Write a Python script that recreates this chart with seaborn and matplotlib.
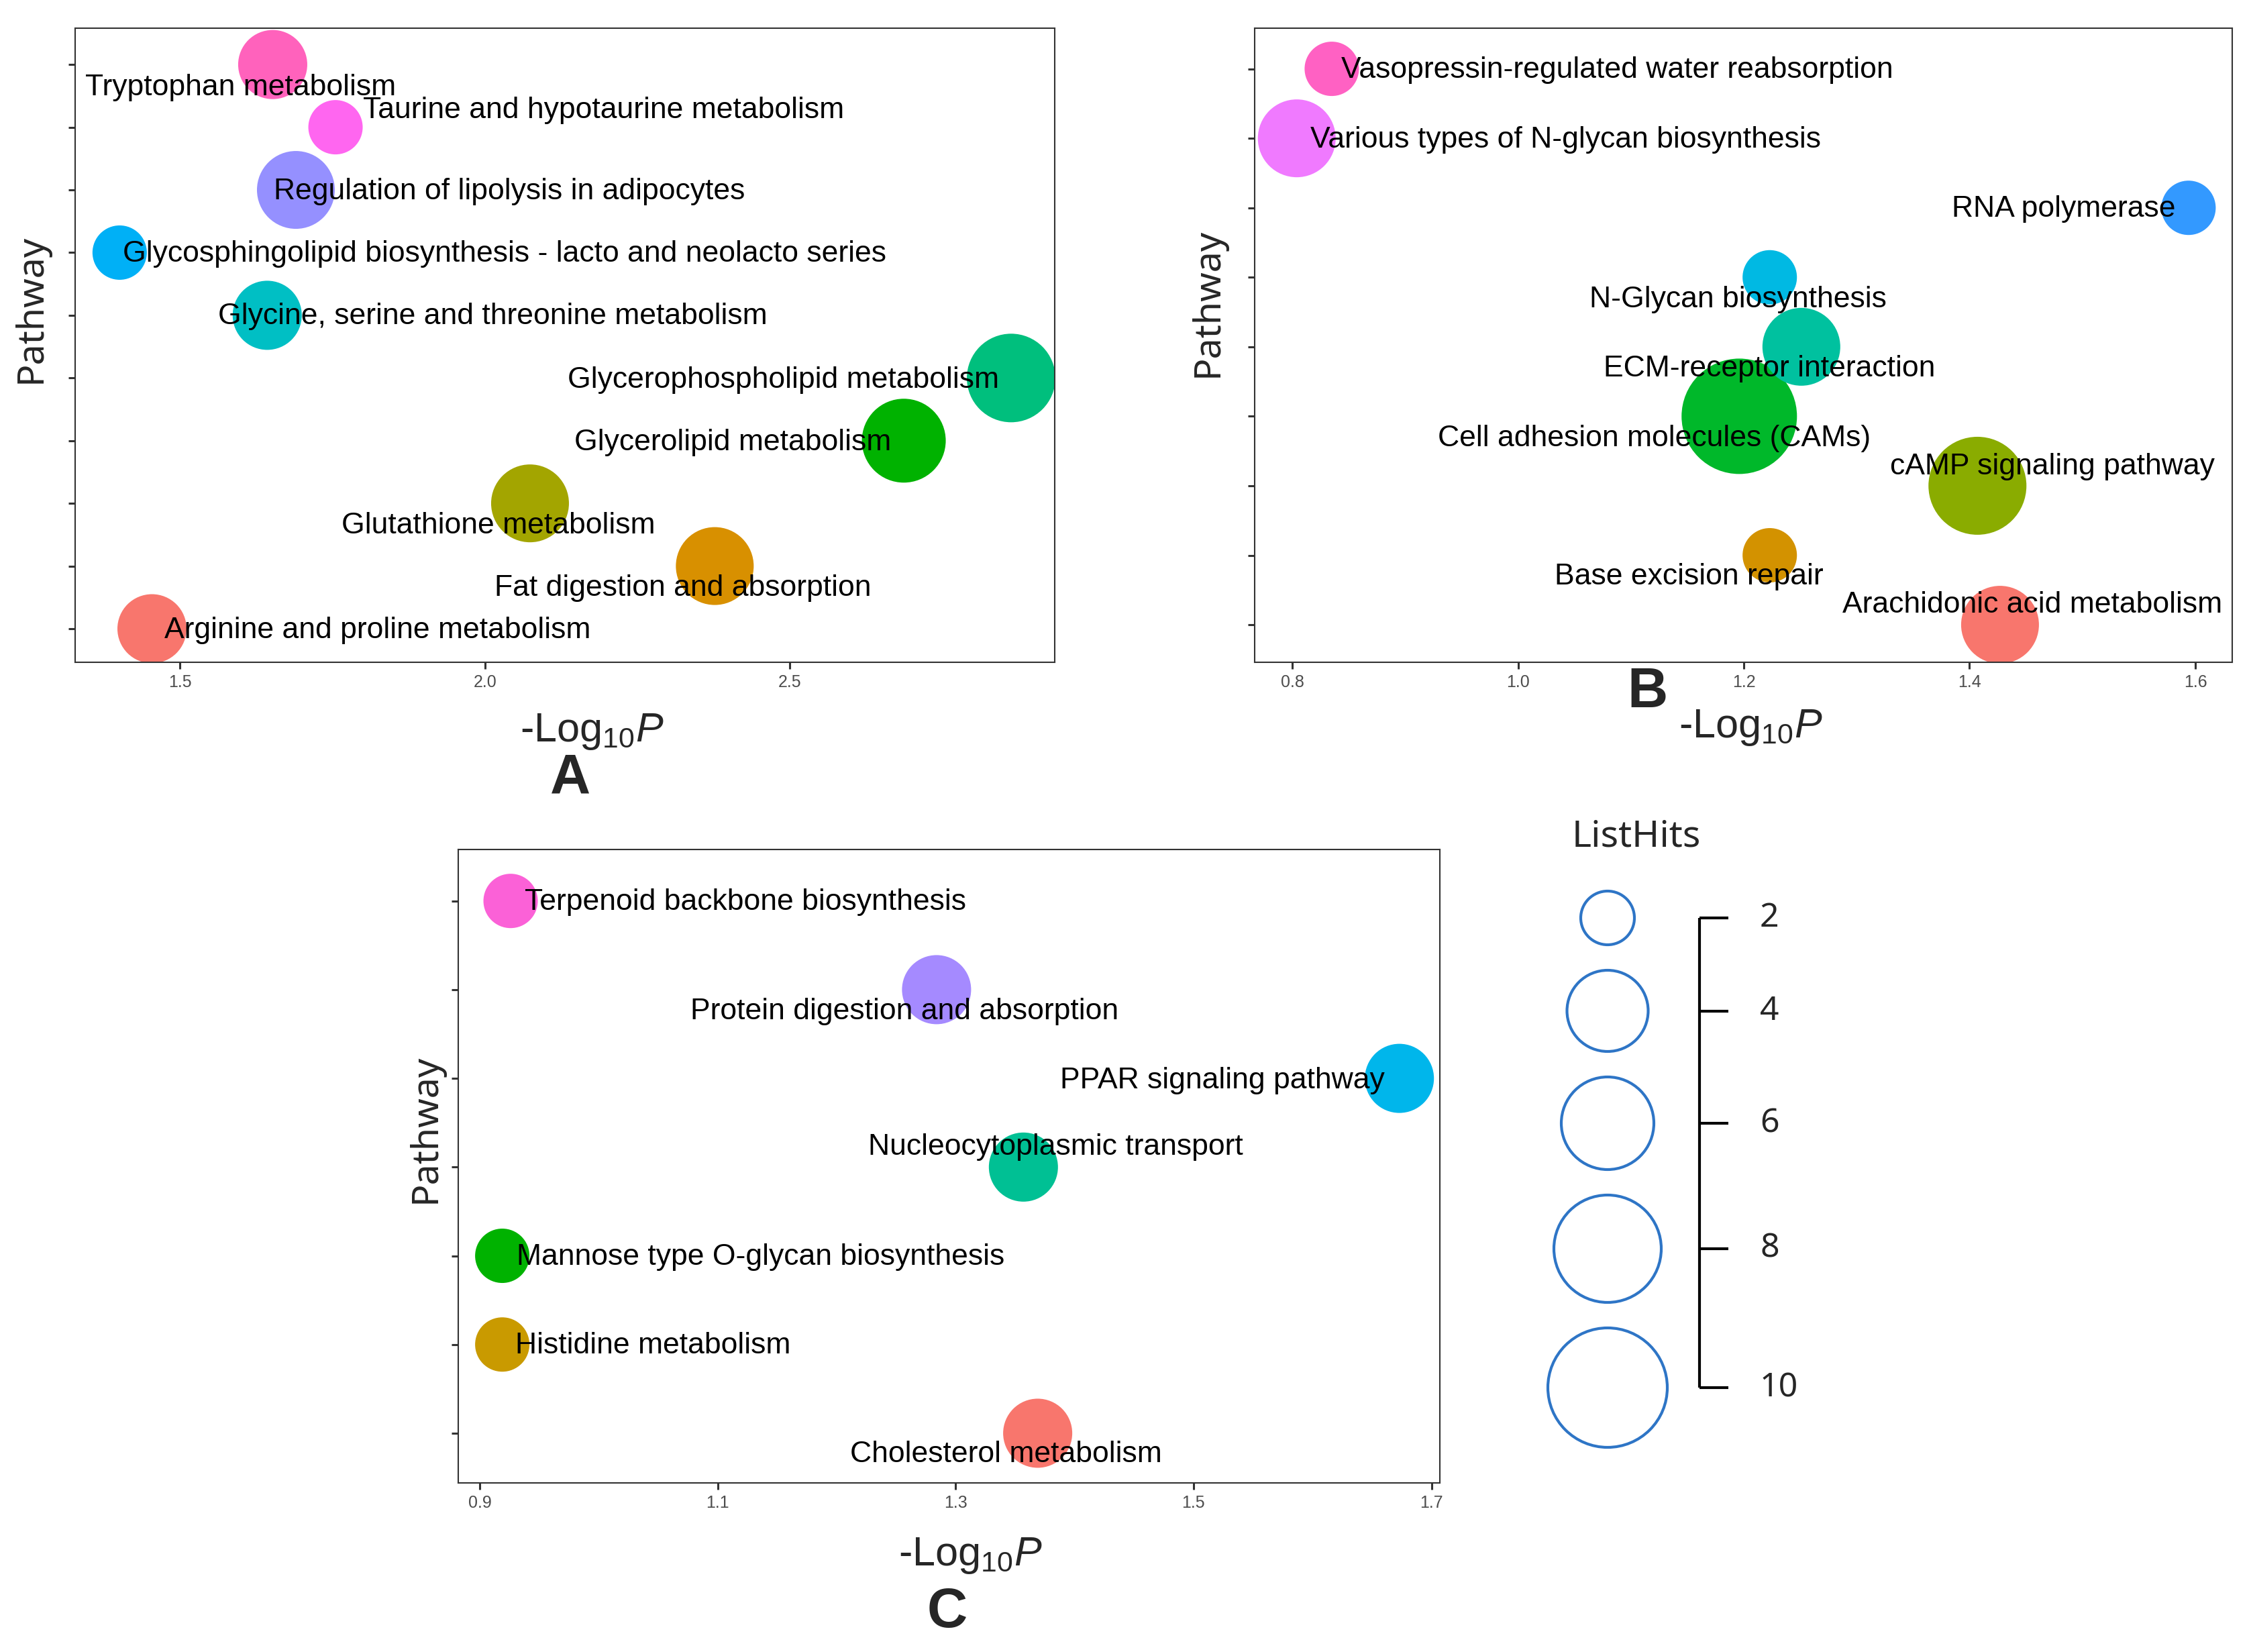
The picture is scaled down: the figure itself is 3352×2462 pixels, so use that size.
"""
Bubble plots of enriched pathways (panels A, B, C) with a shared ListHits size key.
"""

import matplotlib
matplotlib.use('Agg')
import matplotlib.pyplot as plt  # plotting
import seaborn as sns  # scatter with hue / size mapping
import pandas as pd

# ---- data -----------------------------------------------------------------
# panel A (bottom -> top)
pathA = ['Arginine and proline metabolism', 'Fat digestion and absorption',
         'Glutathione metabolism', 'Glycerolipid metabolism',
         'Glycerophospholipid metabolism', 'Glycine, serine and threonine metabolism',
         'Glycosphingolipid biosynthesis - lacto and neolacto series',
         'Regulation of lipolysis in adipocytes', 'Taurine and hypotaurine metabolism',
         'Tryptophan metabolism']
logpA = [1.454, 2.377, 2.074, 2.687, 2.863, 1.643, 1.401, 1.690, 1.755, 1.652]
hitsA = [3, 4, 4, 5, 6, 3, 2, 4, 2, 3]

# panel B
pathB = ['Arachidonic acid metabolism', 'Base excision repair', 'cAMP signaling pathway',
         'Cell adhesion molecules (CAMs)', 'ECM-receptor interaction',
         'N-Glycan biosynthesis', 'RNA polymerase',
         'Various types of N-glycan biosynthesis', 'Vasopressin-regulated water reabsorption']
logpB = [1.427, 1.223, 1.407, 1.196, 1.251, 1.223, 1.594, 0.804, 0.835]
hitsB = [4, 2, 7, 10, 4, 2, 2, 4, 2]

# panel C
pathC = ['Cholesterol metabolism', 'Histidine metabolism',
         'Mannose type O-glycan biosynthesis', 'Nucleocytoplasmic transport',
         'PPAR signaling pathway', 'Protein digestion and absorption',
         'Terpenoid backbone biosynthesis']
logpC = [1.369, 0.919, 0.919, 1.357, 1.673, 1.284, 0.926]
hitsC = [3, 2, 2, 3, 3, 3, 2]

xticksA = [1.5, 2.0, 2.5]
xticksB = [0.8, 1.0, 1.2, 1.4, 1.6]
xticksC = [0.9, 1.1, 1.3, 1.5, 1.7]

legend_hits = [2, 4, 6, 8, 10]

# ---- style ----------------------------------------------------------------
colA = ['#F8766D', '#D89000', '#A3A500', '#00B200', '#00BF7D',
        '#00BFC4', '#00B0F6', '#9590FF', '#FF66F0', '#FF62BC']
colB = ['#F8766D', '#D39200', '#8AAC00', '#00B82A', '#00C19F',
        '#00B9E3', '#3399FF', '#F07AFF', '#FF61C3']
colC = ['#F8766D', '#C99A00', '#00B200', '#00C094', '#00B6EB', '#A58AFF', '#FB61D7']

# label offsets from bubble centre, pixels (right, down)
offA = [(336, 2), (-48, 33), (-47, 33), (-255, 3), (-340, 3),
        (336, 2), (574, 2), (318, 2), (400, -25), (-48, 34)]
offB = [(48, -30), (-120, 32), (112, -28), (-127, 33), (-48, 33),
        (-47, 33), (-186, 2), (401, 2), (425, 2)]
offC = [(-47, 32), (225, 2), (385, 2), (48, -30), (-264, 3), (-48, 33), (350, 2)]

W, H = 3352, 2462
PT = 0.72  # px -> points at dpi 100

diam = {2: 81, 3: 103, 4: 116, 5: 125, 6: 132, 7: 146, 10: 172}
size_map = {k: (v * PT) ** 2 for k, v in diam.items()}
legend_diam = [80, 121, 138, 160, 178]

sns.set_style('white')
plt.rcParams['font.family'] = ['Liberation Sans', 'DejaVu Sans']
plt.rcParams['mathtext.fontset'] = 'custom'
plt.rcParams['mathtext.rm'] = 'Liberation Sans'
plt.rcParams['mathtext.it'] = 'Liberation Sans:italic'

fig = plt.figure(figsize=(W / 100, H / 100), dpi=100)


def rect(x0, y0, x1, y1):
    return [x0 / W, 1 - y1 / H, (x1 - x0) / W, (y1 - y0) / H]


def bubble_panel(box, paths, logp, hits, colors, offsets, xlim, ylim, xticks):
    ax = fig.add_axes(rect(*box))
    df = pd.DataFrame({'Pathway': paths, 'logP': logp, 'ListHits': hits})
    sns.scatterplot(data=df, x='logP', y='Pathway', hue='Pathway', palette=colors,
                    size='ListHits', sizes=size_map, linewidth=0, alpha=1,
                    legend=False, ax=ax, zorder=2)
    for i, (lab, xv, (dx, dy)) in enumerate(zip(paths, logp, offsets)):
        ax.annotate(lab, xy=(xv, i), xytext=(dx * PT, -dy * PT), textcoords='offset points',
                    ha='center', va='center', fontsize=32, color='black', zorder=3,
                    annotation_clip=False)
    ax.set_xlim(*xlim)
    ax.set_ylim(*ylim)
    ax.set_xticks(xticks)
    ax.set_xticklabels(['%.1f' % t for t in xticks])
    ax.set_yticks(range(len(paths)))
    ax.set_yticklabels([])
    ax.set_xlabel('')
    ax.set_ylabel('')
    ax.tick_params(axis='both', length=7, width=2.2, color='#333333', labelsize=18,
                   labelcolor='#4D4D4D', pad=6, left=True, bottom=True)
    for sp in ax.spines.values():
        sp.set_visible(True)
        sp.set_color('#333333')
        sp.set_linewidth(1.5)
    return ax


bubble_panel((112, 42, 1572, 987), pathA, logpA, hitsA, colA, offA,
             (1.328, 2.9345), (-0.535, 9.58), xticksA)
bubble_panel((1870, 42, 3327, 987), pathB, logpB, hitsB, colB, offB,
             (0.7667, 1.6327), (-0.54, 8.585), xticksB)
bubble_panel((683, 1266, 2146, 2210), pathC, logpC, hitsC, colC, offC,
             (0.882, 1.707), (-0.56, 6.58), xticksC)

# axis titles and panel letters
ylab_kw = dict(rotation=90, ha='center', va='center', fontsize=40, family=['Noto Sans', 'DejaVu Sans'])
fig.text(46 / W, 1 - 460 / H, 'Pathway', **ylab_kw)
fig.text(1800 / W, 1 - 451 / H, 'Pathway', **ylab_kw)
fig.text(634 / W, 1 - 1682 / H, 'Pathway', **ylab_kw)

xlab = r'-Log$_{10}$$\it{P}$'
fig.text(882 / W, 1 - 1090 / H, xlab, ha='center', va='center', fontsize=44)
fig.text(2609 / W, 1 - 1085 / H, xlab, ha='center', va='center', fontsize=44)
fig.text(1446 / W, 1 - 2318 / H, xlab, ha='center', va='center', fontsize=44)

fig.text(850 / W, 1 - 1161 / H, 'A', ha='center', va='center', fontsize=60, fontweight='bold')
fig.text(2455 / W, 1 - 1032 / H, 'B', ha='center', va='center', fontsize=60, fontweight='bold')
fig.text(1412 / W, 1 - 2403 / H, 'C', ha='center', va='center', fontsize=60, fontweight='bold')

# ---- ListHits key (pixel coordinates overlay) -----------------------------
lax = fig.add_axes([0, 0, 1, 1], facecolor='none')

gap = 38
ys = [1368]
for a, b in zip(legend_diam[:-1], legend_diam[1:]):
    ys.append(ys[-1] + (a + b) / 2 + gap)
key = pd.DataFrame({'x': [2396] * len(legend_hits), 'y': ys, 'hits': legend_hits})
sns.scatterplot(data=key, x='x', y='y', s=[(d * PT) ** 2 for d in legend_diam],
                facecolor='none', edgecolor='#2E75C6', linewidth=3, legend=False, ax=lax)
lax.set_xlim(0, W)
lax.set_ylim(H, 0)
lax.axis('off')

lax.plot([2533, 2533], [ys[0], ys[-1]], color='black', lw=3, solid_capstyle='butt')
for yv, h in zip(ys, legend_hits):
    lax.plot([2533, 2576], [yv, yv], color='black', lw=3, solid_capstyle='butt')
    lax.text(2623, yv, str(h), ha='left', va='center', fontsize=36,
             family=['Noto Sans', 'DejaVu Sans'])
lax.text(2439, 1247, 'ListHits', ha='center', va='center', fontsize=40,
         family=['Noto Sans', 'DejaVu Sans'])

fig.savefig('out.png', dpi=100)
